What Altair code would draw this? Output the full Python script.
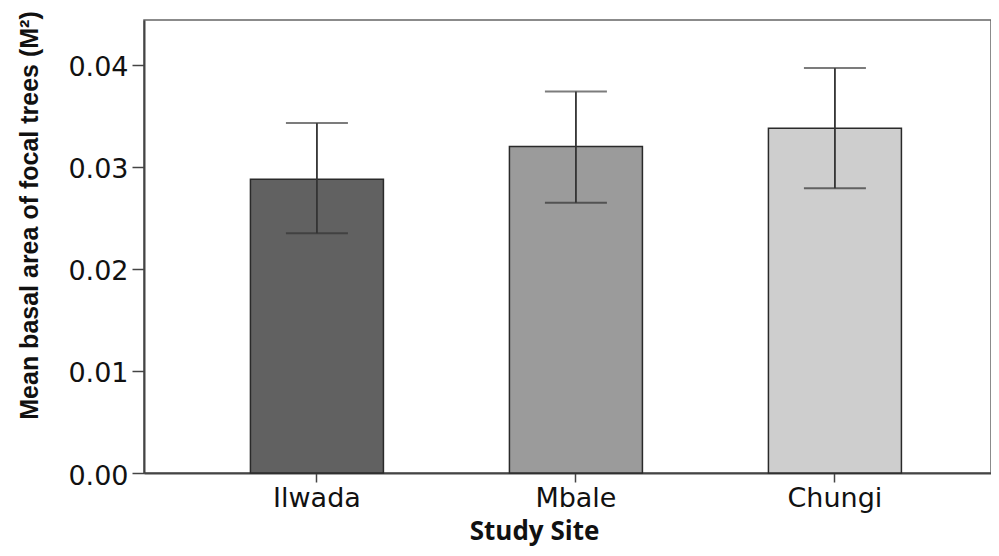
import altair as alt
import pandas as pd

sites = ["Ilwada", "Mbale", "Chungi"]
means = [0.0288, 0.0320, 0.0338]
lower = [0.0235, 0.0265, 0.0279]
upper = [0.0343, 0.0374, 0.0397]
fills = ["#616161", "#9b9b9b", "#cecece"]
y_ticks = [0.00, 0.01, 0.02, 0.03, 0.04]

df = pd.DataFrame({"site": sites, "mean": means, "lo": lower, "hi": upper})

xscale = alt.Scale(domain=sites, paddingInner=0.4865, paddingOuter=0.3784, align=0.543)
yscale = alt.Scale(domain=[0, 0.0444], nice=False, zero=True)

x = alt.X(
    "site:N", scale=xscale, sort=sites,
    axis=alt.Axis(
        title="Study Site", labelAngle=0, labelFont="DejaVu Sans", labelFontSize=27,
        labelColor="#111", labelBaseline="alphabetic", labelPadding=24,
        tickSize=9, tickColor="#444", tickWidth=1.5, domainColor="#444", domainWidth=2,
        titleFont="Open Sans", titleFontSize=26, titleFontWeight="bold", titleColor="#111",
        titleX=390, titleY=66, titleAlign="center", titleBaseline="alphabetic",
    ),
)
y = alt.Y(
    "mean:Q", scale=yscale,
    axis=alt.Axis(
        title="Mean basal area of focal trees  (M²)", values=y_ticks, format=".2f", grid=False,
        labelFont="DejaVu Sans", labelFontSize=27, labelColor="#111", labelPadding=4,
        labelOffset=3, tickSize=12, tickColor="#444", tickWidth=1.5,
        domainColor="#444", domainWidth=2,
        titleFont="Liberation Sans", titleFontSize=25,
        titleFontWeight="bold", titleColor="#111",
        titleX=-107, titleY=195, titleAngle=270, titleAlign="center", titleBaseline="alphabetic",
    ),
)

base = alt.Chart(df)
bars = base.mark_bar(stroke="#2a2a2a", strokeWidth=1.5).encode(
    x=x, y=y,
    color=alt.Color("site:N", scale=alt.Scale(domain=sites, range=fills), legend=None),
)
rules = base.mark_rule(color="#333", strokeWidth=1.8).encode(
    x=alt.X("site:N", scale=xscale, sort=sites),
    y=alt.Y("lo:Q", scale=yscale), y2="hi:Q",
)
caps_hi = base.mark_tick(color="#444", thickness=2, size=62).encode(
    x=alt.X("site:N", scale=xscale, sort=sites), y=alt.Y("hi:Q", scale=yscale)
)
caps_lo = base.mark_tick(color="#333", thickness=2, size=62).encode(
    x=alt.X("site:N", scale=xscale, sort=sites), y=alt.Y("lo:Q", scale=yscale)
)

chart = (
    alt.layer(bars, rules, caps_hi, caps_lo)
    .properties(
        width=847, height=453,
        autosize=alt.AutoSizeParams(type="none"),
        padding={"left": 136, "top": 12, "right": 0, "bottom": 75},
        background="white",
    )
    .configure_view(stroke="#666", strokeWidth=1.5)
)

chart.save("out.html", embed_options={"renderer": "svg", "actions": False})
